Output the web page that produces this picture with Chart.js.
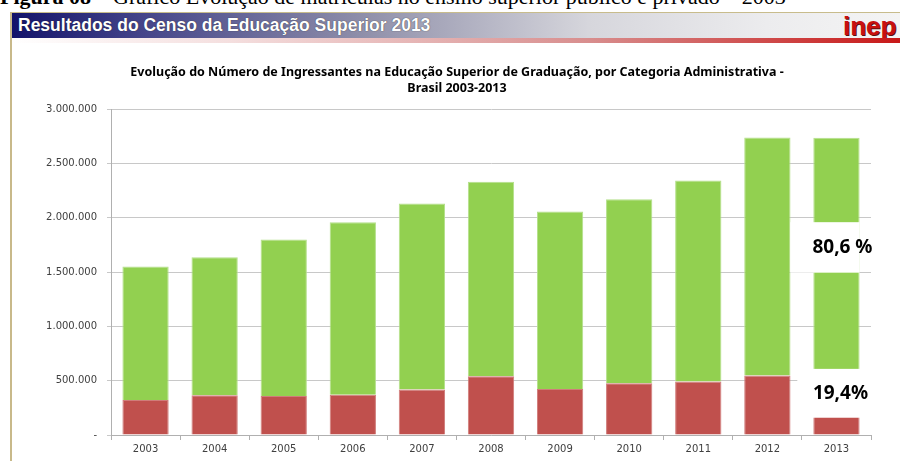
<!DOCTYPE html>
<html>
<head>
<meta charset="utf-8">
<script src="https://cdn.jsdelivr.net/npm/chart.js@4"></script>
<style>
  html, body { margin: 0; padding: 0; background: #fff; }
  #page { position: relative; width: 900px; height: 461px; overflow: hidden; }
  #fig { position: absolute; left: 0; top: -15px; white-space: nowrap;
         font: 22px "Liberation Serif", serif; color: #000; line-height: 24px; }
  #fig b { font-weight: bold; }
  #topline { position: absolute; left: 10px; top: 12px; width: 890px; height: 1px; background: #c8bc8c; }
  #bar { position: absolute; left: 10px; top: 13px; width: 890px; height: 25px;
         background: linear-gradient(to right, #12126a 0%, #45458a 15%, #9090aa 40%, #d6d6dc 65%, #ececee 85%, #f4f4f4 100%); }
  #bar span { position: absolute; left: 8px; top: 2px; color: #fff;
              font: bold 17.5px "Liberation Sans", Arial, sans-serif; text-shadow: 0 0 1px #222; }
  #inep { position: absolute; left: 833px; top: -2px; font: bold 26px "Liberation Sans", sans-serif;
          color: #c81010; letter-spacing: 0px; text-shadow: 1px 1px 0 #5a1010; }
  #redline { position: absolute; left: 10px; top: 38px; width: 890px; height: 5px;
             background: linear-gradient(to right, #ffffff 0%, #f4dede 25%, #d88e8e 65%, #c81818 100%); }
  #leftline { position: absolute; left: 10px; top: 12px; width: 2px; height: 449px; background: #c8b98a; }
  #chart { position: absolute; left: 0; top: 0; }
</style>
</head>
<body>
<div id="page">
  <div id="fig"><b>Figura 08</b> – Gráfico Evolução de matrículas no ensino superior público e privado – 2003</div>
  <div id="topline"></div>
  <div id="bar"><span>Resultados do Censo da Educação Superior 2013</span><div id="inep">inep</div></div>
  <div id="redline"></div>
  <div id="leftline"></div>
  <canvas id="chart" width="900" height="461"></canvas>
</div>
<script>
const years = ['2003', '2004', '2005', '2006', '2007', '2008', '2009', '2010', '2011', '2012', '2013'];
const publica = [322000, 365000, 359000, 371000, 420000, 540000, 423000, 476000, 493000, 548000, 532000];
const privada = [1230000, 1272000, 1441000, 1589000, 1713000, 1793000, 1635000, 1696000, 1850000, 2192000, 2206000];
const shareLabels = ['19,4%', '80,6 %'];
const titleLines = [
  'Evolução do Número de Ingressantes na Educação Superior de Graduação, por Categoria Administrativa -',
  'Brasil 2003-2013'
];

function fmt(v) {
  if (v === 0) return '-';
  return String(v).replace(/\B(?=(\d{3})+(?!\d))/g, '.');
}

// white boxes with the percentages over the last bar
const shareBoxes = {
  id: 'shareBoxes',
  afterDatasetsDraw(chart) {
    const { ctx, chartArea, scales: { y } } = chart;
    const bar = chart.getDatasetMeta(0).data[10];
    const half = bar.width / 2;
    const left = bar.x - half, right = bar.x + half;
    const t1 = y.getPixelForValue(1960000), b1 = y.getPixelForValue(1495000);
    const t2 = y.getPixelForValue(609000), b2 = y.getPixelForValue(159000);
    ctx.save();
    ctx.fillStyle = '#fff';
    ctx.fillRect(left - 23, t1, right - left + 23, b1 - t1);
    ctx.fillRect(left - 16, t2, chartArea.right - left + 16, b2 - t2);
    ctx.fillStyle = '#000';
    ctx.font = 'bold 19px "Noto Sans", sans-serif';
    ctx.textAlign = 'center';
    ctx.textBaseline = 'middle';
    ctx.fillText(shareLabels[1], bar.x + 6, (t1 + b1) / 2);
    ctx.fillText(shareLabels[0], bar.x + 4, (t2 + b2) / 2);
    ctx.restore();
  }
};

const ctx = document.getElementById('chart').getContext('2d');
new Chart(ctx, {
  type: 'bar',
  data: {
    labels: years,
    datasets: [
      { label: 'Pública', data: publica, backgroundColor: '#c0504d', borderColor: '#d07c7a', borderWidth: 1 },
      { label: 'Privada', data: privada, backgroundColor: '#92d050', borderColor: '#b4e08a', borderWidth: 1 }
    ]
  },
  options: {
    responsive: false,
    animation: false,
    layout: { padding: { left: 43, right: 29, top: 65, bottom: 3 } },
    datasets: { bar: { categoryPercentage: 1, barPercentage: 0.67 } },
    plugins: {
      legend: { display: false },
      tooltip: { enabled: false },
      title: {
        display: true,
        text: titleLines,
        color: '#000',
        font: { family: '"Noto Sans", sans-serif', size: 12.5, weight: 'bold', lineHeight: 1.25 },
        padding: { top: 0, bottom: 13 }
      }
    },
    scales: {
      x: {
        stacked: true,
        grid: { drawOnChartArea: false, drawTicks: true, tickLength: 5, color: '#b0b0b0' },
        border: { color: '#b0b0b0' },
        ticks: { color: '#404040', font: { family: '"DejaVu Sans", sans-serif', size: 10 }, padding: 3 }
      },
      y: {
        stacked: true,
        min: 0,
        max: 3000000,
        afterFit(s) { s.width = 68; },
        grid: { color: '#c8c8c8', tickLength: 4 },
        border: { color: '#b0b0b0' },
        ticks: {
          stepSize: 500000,
          color: '#404040',
          font: { family: '"DejaVu Sans", sans-serif', size: 10 },
          padding: 10,
          callback: (v) => fmt(v)
        }
      }
    }
  },
  plugins: [shareBoxes]
});
</script>
</body>
</html>
